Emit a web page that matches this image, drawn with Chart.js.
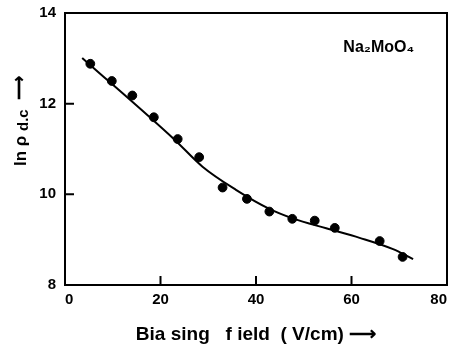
<!DOCTYPE html>
<html>
<head>
<meta charset="utf-8">
<script src="https://cdn.jsdelivr.net/npm/chart.js@4.4.1/dist/chart.umd.min.js"></script>
<style>
  html, body { margin: 0; padding: 0; background: #fff; }
  #wrap { width: 454px; height: 349px; position: relative; }
</style>
</head>
<body>
<div id="wrap"><canvas id="c" width="454" height="349"></canvas></div>
<script>
// Measured data points: biasing field (V/cm) vs ln rho_dc
const fieldValues = [5.3, 9.8, 14.1, 18.6, 23.6, 28.1, 33.0, 38.1, 42.8, 47.6, 52.3, 56.5, 65.9, 70.7];
const lnRhoValues = [12.88, 12.50, 12.18, 11.70, 11.22, 10.82, 10.15, 9.90, 9.62, 9.46, 9.42, 9.26, 8.97, 8.62];
// Fitted curve
const curveField = [3.6, 22.9, 28.8, 35.8, 42.8, 47.7, 54.7, 61.7, 68.7, 72.9];
const curveLnRho = [13.01, 11.21, 10.61, 10.10, 9.68, 9.47, 9.25, 9.04, 8.79, 8.57];
// Axes
const xTickValues = [0, 20, 40, 60, 80];
const yTickValues = [8, 10, 12, 14];
const xTitle = 'Bia sing   f ield  ( V/cm) \u27F6';
const yTitleMain = 'ln \u03C1 ';
const yTitleSub = 'd.c';
const yTitleArrow = '  \u27F6';
const annotationText = 'Na\u2082MoO\u2084';

const FONT = "'Liberation Sans', Arial, sans-serif";

const boxPlugin = {
  id: 'boxPlugin',
  afterDraw(chart) {
    const ctx = chart.ctx;
    const a = chart.chartArea;
    const xs = chart.scales.x, ys = chart.scales.y;
    ctx.save();
    ctx.strokeStyle = '#000';
    ctx.lineWidth = 2;
    ctx.strokeRect(a.left, a.top, a.right - a.left, a.bottom - a.top);
    ctx.beginPath();
    xTickValues.forEach(v => {
      if (v === xs.min || v === xs.max) return;
      const px = xs.getPixelForValue(v);
      ctx.moveTo(px, a.bottom);
      ctx.lineTo(px, a.bottom - 9);
    });
    yTickValues.forEach(v => {
      if (v === ys.min || v === ys.max) return;
      const py = ys.getPixelForValue(v);
      ctx.moveTo(a.left, py);
      ctx.lineTo(a.left + 9, py);
    });
    ctx.stroke();
    // annotation
    ctx.fillStyle = '#000';
    ctx.font = 'bold 16px ' + FONT;
    ctx.textAlign = 'center';
    ctx.textBaseline = 'middle';
    ctx.fillText(annotationText, xs.getPixelForValue(65.7), ys.getPixelForValue(13.23));
    // y-axis title (rotated, with subscript)
    ctx.translate(21, 121);
    ctx.rotate(-Math.PI / 2);
    const fMain = 'bold 17px ' + FONT;
    const fSub = 'bold 15px ' + FONT;
    ctx.font = fMain; const w1 = ctx.measureText(yTitleMain).width;
    ctx.font = fSub; const w2 = ctx.measureText(yTitleSub).width;
    ctx.font = fMain; const w3 = ctx.measureText(yTitleArrow).width;
    let x0 = -(w1 + w2 + w3) / 2;
    ctx.textAlign = 'left';
    ctx.font = fMain; ctx.fillText(yTitleMain, x0, 0);
    ctx.font = fSub; ctx.fillText(yTitleSub, x0 + w1, 3);
    ctx.font = fMain; ctx.fillText(yTitleArrow, x0 + w1 + w2, -1);
    ctx.restore();
  }
};

new Chart(document.getElementById('c'), {
  type: 'scatter',
  data: {
    datasets: [
      {
        label: 'fit',
        type: 'line',
        data: curveField.map((x, i) => ({ x, y: curveLnRho[i] })),
        borderColor: '#000',
        borderWidth: 2,
        pointRadius: 0,
        cubicInterpolationMode: 'monotone',
        fill: false
      },
      {
        label: 'data',
        data: fieldValues.map((x, i) => ({ x, y: lnRhoValues[i] })),
        backgroundColor: '#000',
        borderColor: '#000',
        pointRadius: 4.4,
        pointHoverRadius: 4.4
      }
    ]
  },
  options: {
    responsive: false,
    animation: false,
    events: [],
    layout: { padding: { top: 13, right: 7, left: 0, bottom: 0 } },
    plugins: { legend: { display: false }, tooltip: { enabled: false } },
    scales: {
      x: {
        type: 'linear',
        min: 0, max: 80,
        afterBuildTicks: s => { s.ticks = xTickValues.map(v => ({ value: v })); },
        afterFit: s => { s.height = 64; s.paddingRight = 0; s.paddingLeft = 0; },
        grid: { display: false, drawTicks: false },
        border: { display: false },
        ticks: { padding: 6, align: 'inner', color: '#000', font: { family: FONT, size: 15, weight: 'bold' } },
        title: { display: true, text: xTitle, color: '#000', padding: { top: 0, bottom: 3 },
                 font: { family: FONT, size: 19, weight: 'bold' } }
      },
      y: {
        type: 'linear',
        min: 8, max: 14,
        afterBuildTicks: s => { s.ticks = yTickValues.map(v => ({ value: v })); },
        afterFit: s => { s.width = 65; s.paddingTop = 0; s.paddingBottom = 0; },
        grid: { display: false, drawTicks: false },
        border: { display: false },
        ticks: { padding: 9, color: '#000', font: { family: FONT, size: 15, weight: 'bold' } },
        title: { display: false }
      }
    }
  },
  plugins: [boxPlugin]
});
</script>
</body>
</html>
